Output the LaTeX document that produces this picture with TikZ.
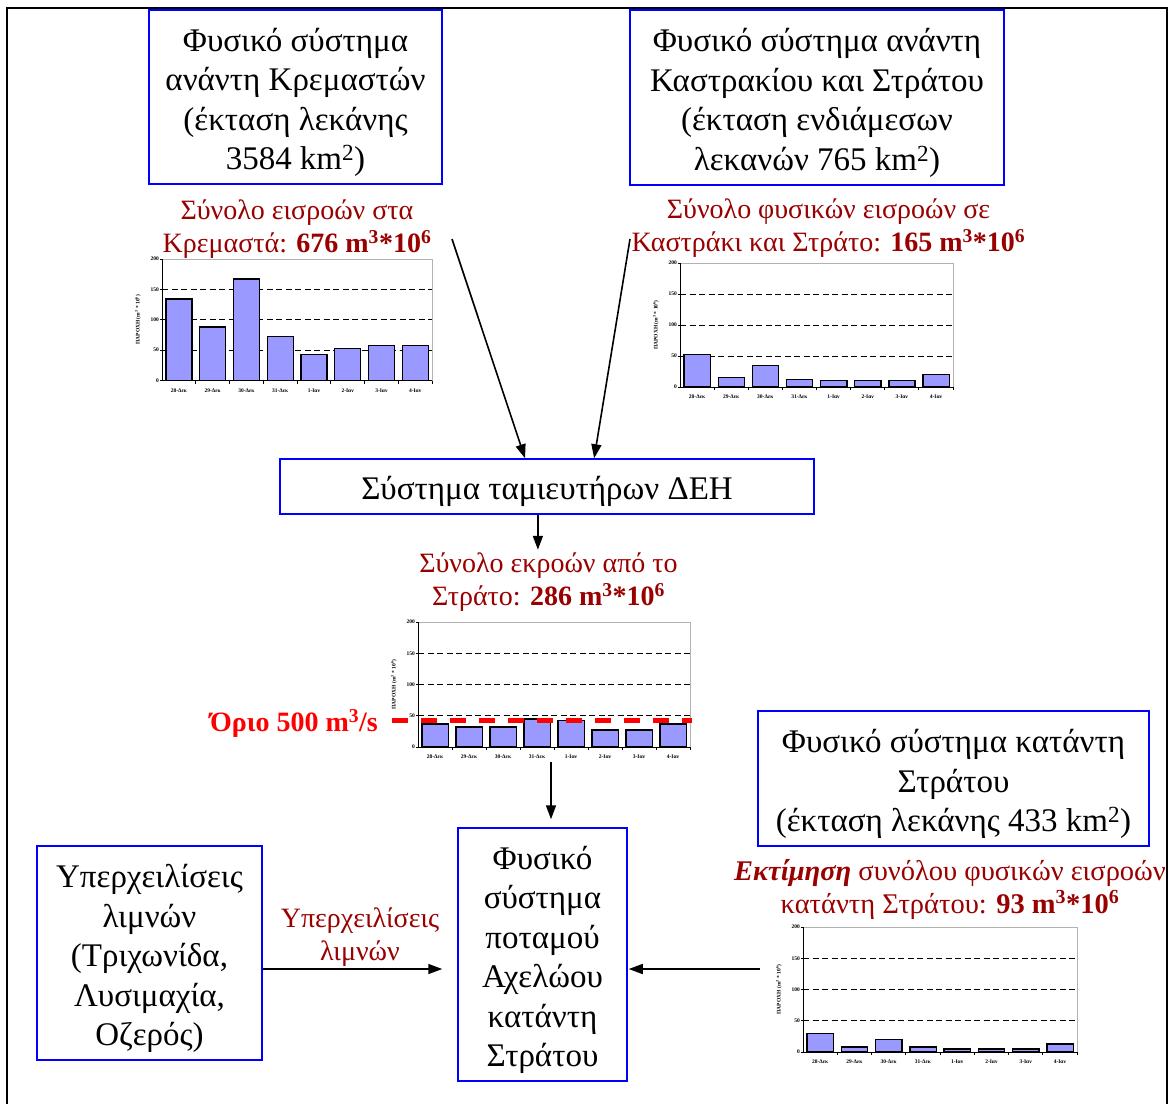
\documentclass[tikz,border=0pt]{standalone}
\usepackage{fontspec}
\setmainfont{Liberation Serif}
\usetikzlibrary{arrows.meta,calc}

\definecolor{boxblue}{RGB}{0,0,255}
\definecolor{labelred}{RGB}{153,0,0}
\definecolor{barfill}{RGB}{153,153,255}

\newcommand{\boxfont}{\fontsize{33}{39.5}\selectfont}
\newcommand{\labelfont}{\fontsize{28}{33}\selectfont}
\newcommand{\chartfont}{\fontsize{5.5}{6}\selectfont\bfseries}
\newcommand{\topstrut}{\rule{0pt}{34pt}}

\tikzset{
  bluebox/.style={draw=boxblue, line width=1.5pt, align=center, font=\boxfont, inner sep=0pt},
  redlabel/.style={text=labelred, align=center, font=\labelfont, inner sep=0pt},
  flow/.style={-{Triangle[length=14pt,width=10pt]}, line width=1.6pt},
  gridline/.style={dash pattern=on 6pt off 3.5pt, line width=0.8pt},
  plotframe/.style={draw=gray!60, line width=1pt},
  axisline/.style={line width=1pt},
  bar/.style={fill=barfill, draw=black, line width=1.3pt},
  ticklabel/.style={font=\chartfont, inner sep=1pt},
  limitline/.style={draw=red, line width=5pt, dash pattern=on 16pt off 13pt},
}

% one small discharge chart: name, left, top, right, bottom, values
\newcommand{\paroxichart}[6]{%
  \pgfmathsetmacro{\cw}{(#4-#2)/8}
  \pgfmathsetmacro{\vh}{(#5-#3)/200}
  \foreach \g in {50,100,150}
    \draw[gridline] (#2,{#5-\g*\vh}) -- (#4,{#5-\g*\vh});
  \draw[plotframe] (#2,#3) -- (#4,#3) -- (#4,#5);
  \foreach \v [count=\i] in {#6}
    \draw[bar] ({#2+(\i-0.88)*\cw},#5) rectangle ({#2+(\i-0.11)*\cw},{#5-\v*\vh});
  \draw[axisline] (#2,#3) -- (#2,#5) -- (#4,#5);
  \foreach \g in {0,50,...,200}{
    \draw[axisline] ({#2-2},{#5-\g*\vh}) -- (#2,{#5-\g*\vh});
    \node[ticklabel, anchor=east] (#1-y\g) at ({#2-2},{#5-\g*\vh}) {\g};
  }
  \foreach \d [count=\i] in {28-Δεκ,29-Δεκ,30-Δεκ,31-Δεκ,1-Ιαν,2-Ιαν,3-Ιαν,4-Ιαν}{
    \draw[axisline] ({#2+\i*\cw},#5) -- ++(0,3);
    \node[ticklabel, anchor=north] (#1-x\i) at ({#2+(\i-0.5)*\cw},{#5+7}) {\d};
  }
  \node[ticklabel, rotate=90] (#1-ylab) at ({#2-24},{(#3+#5)/2}) {ΠΑΡΟΧΗ (m\textsuperscript{3} * 10\textsuperscript{6})};
}

\begin{document}
\begin{tikzpicture}[x=1pt, y=-1pt]
  \useasboundingbox (0,0) rectangle (1169,1104);

  % outer frame (open at the bottom)
  \draw[line width=2pt] (7,1104) -- (7,8) -- (1167,8) -- (1167,1104);

  % upstream systems
  \node[bluebox, minimum width=293pt, minimum height=174pt] (kremasta) at (295.5,97)
    {\topstrut Φυσικό σύστημα\\ανάντη Κρεμαστών\\(έκταση λεκάνης\\3584 km\textsuperscript{2})};
  \node[bluebox, minimum width=374pt, minimum height=175pt] (kastraki) at (817,97.5)
    {\topstrut Φυσικό σύστημα ανάντη\\Καστρακίου και Στράτου\\(έκταση ενδιάμεσων\\λεκανών 765 km\textsuperscript{2})};

  % inflow labels
  \node[redlabel] (kremasta-in) at (297,229.5)
    {Σύνολο εισροών στα\\Κρεμαστά: \textbf{676 m\textsuperscript{3}*10\textsuperscript{6}}};
  \node[redlabel] (kastraki-in) at (828.5,228)
    {Σύνολο φυσικών εισροών σε\\Καστράκι και Στράτο: \textbf{165 m\textsuperscript{3}*10\textsuperscript{6}}};

  % charts
  \paroxichart{chkrem}{162}{259}{432}{380.5}{134,88,167,73,43,53,58,58}
  \paroxichart{chkast}{680}{263}{953}{387}{53,15,35,12,10,10,10,20}

  % reservoirs
  \node[bluebox, minimum width=534pt, minimum height=55pt] (dei) at (547,486.5)
    {\topstrut Σύστημα ταμιευτήρων ΔΕΗ};

  \coordinate (kremasta-out) at (452,239);
  \coordinate (kastraki-out) at (630,239);
  \draw[flow] (kremasta-out) -- ($(dei.north west)!0.459!(dei.north east)$);
  \draw[flow] (kastraki-out) -- ($(dei.north west)!0.588!(dei.north east)$);

  % outflow from Stratos
  \node[redlabel] (stratos-out) at (548.5,582.5)
    {Σύνολο εκροών από το\\Στράτο: \textbf{286 m\textsuperscript{3}*10\textsuperscript{6}}};
  \coordinate (dei-out) at ($(dei.south west)!0.483!(dei.south east)$);
  \draw[flow] (dei-out) -- ++(0,35);

  \paroxichart{chstr}{418}{622}{690}{747}{37,32,32,45,42,27,27,37}
  \draw[limitline] (392,720) -- (692,720);
  \node[text=red, font=\labelfont\bfseries, anchor=east, inner sep=0pt] (limit) at (378,723)
    {Όριο 500 m\textsuperscript{3}/s};

  % downstream
  \node[bluebox, minimum width=391pt, minimum height=135pt] (katanti) at (953.5,778.5)
    {\topstrut Φυσικό σύστημα κατάντη\\Στράτου\\(έκταση λεκάνης 433 km\textsuperscript{2})};
  \node[bluebox, minimum width=169pt, minimum height=253pt] (acheloos) at (542.5,954.5)
    {\topstrut Φυσικό\\σύστημα\\ποταμού\\Αχελώου\\κατάντη\\Στράτου};
  \node[bluebox, minimum width=225pt, minimum height=214pt] (lakes) at (149.5,953)
    {\topstrut Υπερχειλίσεις\\λιμνών\\(Τριχωνίδα,\\Λυσιμαχία,\\Οζερός)};

  \begin{scope}
    \clip (0,0) rectangle (1166,1104);
    \node[redlabel, font=\fontsize{28.5}{33}\selectfont] (katanti-in) at (950,889)
      {\textbf{\textit{Εκτίμηση}} συνόλου φυσικών εισροών\\κατάντη Στράτου: \textbf{93 m\textsuperscript{3}*10\textsuperscript{6}}};
  \end{scope}

  \paroxichart{chkat}{803}{927}{1077}{1052}{30,8,20,8,5,5,5,13}

  \node[redlabel] (lakes-lbl) at (360,937.5) {Υπερχειλίσεις\\λιμνών};

  \coordinate (chstr-out) at (551,762);
  \coordinate (lakes-out) at (263,969);
  \coordinate (chkat-out) at (760,969);
  \draw[flow, shorten >=8pt] (chstr-out) -- (chstr-out |- acheloos.north);
  \draw[flow, shorten >=15pt] (lakes-out) -- (lakes-out -| acheloos.west);
  \draw[flow, shorten >=1pt] (chkat-out) -- (chkat-out -| acheloos.east);
\end{tikzpicture}
\end{document}
